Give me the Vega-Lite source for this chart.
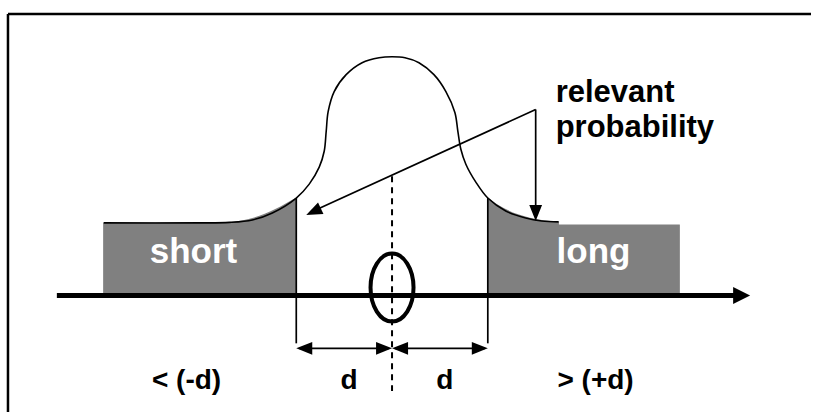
{
  "$schema": "https://vega.github.io/schema/vega-lite/v6.json",
  "width": 813,
  "height": 414,
  "padding": 0,
  "autosize": {"type": "fit", "contains": "padding"},
  "background": "white",
  "config": {"view": {"stroke": null}},
  "datasets": {
    "curve": [
      {"i": 1, "x": 104, "y": 73},
      {"i": 2, "x": 200, "y": 73},
      {"i": 3, "x": 230, "y": 73.5},
      {"i": 4, "x": 253, "y": 76},
      {"i": 5, "x": 273, "y": 83},
      {"i": 6, "x": 297, "y": 98},
      {"i": 7, "x": 310, "y": 112},
      {"i": 8, "x": 320, "y": 129},
      {"i": 9, "x": 325, "y": 145},
      {"i": 10, "x": 327, "y": 165},
      {"i": 11, "x": 329, "y": 185},
      {"i": 12, "x": 335, "y": 205},
      {"i": 13, "x": 347, "y": 222},
      {"i": 14, "x": 363, "y": 234},
      {"i": 15, "x": 380, "y": 239},
      {"i": 16, "x": 393, "y": 240},
      {"i": 17, "x": 406, "y": 239},
      {"i": 18, "x": 420, "y": 234},
      {"i": 19, "x": 435, "y": 222},
      {"i": 20, "x": 447, "y": 205},
      {"i": 21, "x": 456, "y": 184},
      {"i": 22, "x": 459, "y": 165},
      {"i": 23, "x": 462, "y": 147},
      {"i": 24, "x": 467, "y": 132},
      {"i": 25, "x": 477, "y": 114},
      {"i": 26, "x": 489, "y": 98},
      {"i": 27, "x": 507, "y": 85},
      {"i": 28, "x": 527, "y": 78},
      {"i": 29, "x": 543, "y": 75},
      {"i": 30, "x": 560, "y": 74}
    ],
    "leftTail": [
      {"x": 104, "y": 73},
      {"x": 200, "y": 73},
      {"x": 230, "y": 73.5},
      {"x": 253, "y": 76},
      {"x": 273, "y": 83},
      {"x": 297, "y": 98}
    ],
    "rightTail": [
      {"x": 489, "y": 98},
      {"x": 507, "y": 85},
      {"x": 527, "y": 78},
      {"x": 543, "y": 75},
      {"x": 560, "y": 74}
    ],
    "leftFill": [{"x": 297, "y": 0}],
    "rightFill": [{"x": 489, "y": 0}],
    "boxes": [
      {"x": 104, "x2": 297, "y": 73, "y2": 0},
      {"x": 489, "x2": 681, "y": 71, "y2": 0}
    ],
    "border": [
      {"x": 8, "y": 283, "x2": 813, "y2": 283},
      {"x": 8, "y": 283, "x2": 8, "y2": -117}
    ],
    "thin": [
      {"x": 297, "y": 98, "x2": 297, "y2": -48},
      {"x": 489, "y": 98, "x2": 489, "y2": -48},
      {"x": 537, "y": 187, "x2": 312, "y2": 84},
      {"x": 537, "y": 187, "x2": 537, "y2": 85},
      {"x": 300, "y": -53, "x2": 390, "y2": -53},
      {"x": 396, "y": -53, "x2": 486, "y2": -53}
    ],
    "dashed": [
      {"x": 393, "y": 120, "x2": 393, "y2": -96}
    ],
    "axis": [
      {"x": 57, "y": 0, "x2": 740, "y2": 0}
    ],
    "heads": [
      {"x": 307, "y": 81, "angle": 245},
      {"x": 537, "y": 75, "angle": 180},
      {"x": 297, "y": -53, "angle": 270},
      {"x": 393, "y": -53, "angle": 90},
      {"x": 393, "y": -53, "angle": 270},
      {"x": 489, "y": -53, "angle": 90}
    ],
    "axishead": [
      {"x": 752, "y": 0, "angle": 90}
    ],
    "ellipse": [
      {"x": 393, "y": 8}
    ],
    "whiteLabels": [
      {"x": 194, "y": 33, "text": "short"},
      {"x": 595, "y": 33, "text": "long"}
    ],
    "bottomLabels": [
      {"x": 187, "y": -94, "text": "< (-d)"},
      {"x": 350, "y": -94, "text": "d"},
      {"x": 446, "y": -94, "text": "d"},
      {"x": 597, "y": -94, "text": "> (+d)"}
    ],
    "noteLabels": [
      {"x": 557, "y": 195, "text": "relevant"},
      {"x": 557, "y": 159, "text": "probability"}
    ]
  },
  "layer": [
    {
      "data": {"name": "leftFill"},
      "mark": {"type": "point", "shape": "M0,0L0,-98C-22,-85 -42,-75 -67,-73.5L-193,-73L-193,0Z", "size": 4, "filled": true, "color": "#808080", "strokeWidth": 0, "opacity": 1},
      "encoding": {
        "x": {"field": "x", "type": "quantitative", "scale": {"domain": [0, 813], "nice": false, "zero": false}, "axis": null},
        "y": {"field": "y", "type": "quantitative", "scale": {"domain": [-117, 297], "nice": false, "zero": false}, "axis": null}
      }
    },
    {
      "data": {"name": "rightFill"},
      "mark": {"type": "point", "shape": "M0,0L0,-98C15,-86 35,-76 71,-74L71,-71L192,-71L192,0Z", "size": 4, "filled": true, "color": "#808080", "strokeWidth": 0, "opacity": 1},
      "encoding": {
        "x": {"field": "x", "type": "quantitative", "scale": {"domain": [0, 813], "nice": false, "zero": false}, "axis": null},
        "y": {"field": "y", "type": "quantitative", "scale": {"domain": [-117, 297], "nice": false, "zero": false}, "axis": null}
      }
    },
    {
      "data": {"name": "leftTail"},
      "mark": {"type": "area", "color": "#808080"},
      "encoding": {
        "x": {"field": "x", "type": "quantitative", "scale": {"domain": [0, 813], "nice": false, "zero": false}, "axis": null},
        "y": {"field": "y", "type": "quantitative", "scale": {"domain": [-117, 297], "nice": false, "zero": false}, "axis": null}
      }
    },
    {
      "data": {"name": "rightTail"},
      "mark": {"type": "area", "color": "#808080"},
      "encoding": {
        "x": {"field": "x", "type": "quantitative", "scale": {"domain": [0, 813], "nice": false, "zero": false}, "axis": null},
        "y": {"field": "y", "type": "quantitative", "scale": {"domain": [-117, 297], "nice": false, "zero": false}, "axis": null}
      }
    },
    {
      "data": {"name": "boxes"},
      "mark": {"type": "rect", "color": "#808080"},
      "encoding": {
        "x": {"field": "x", "type": "quantitative", "scale": {"domain": [0, 813], "nice": false, "zero": false}, "axis": null},
        "y": {"field": "y", "type": "quantitative", "scale": {"domain": [-117, 297], "nice": false, "zero": false}, "axis": null},
        "x2": {"field": "x2"},
        "y2": {"field": "y2"}
      }
    },
    {
      "data": {"name": "border"},
      "mark": {"type": "rule", "stroke": "black", "strokeWidth": 2.5},
      "encoding": {
        "x": {"field": "x", "type": "quantitative", "scale": {"domain": [0, 813], "nice": false, "zero": false}, "axis": null},
        "y": {"field": "y", "type": "quantitative", "scale": {"domain": [-117, 297], "nice": false, "zero": false}, "axis": null},
        "x2": {"field": "x2"},
        "y2": {"field": "y2"}
      }
    },
    {
      "data": {"name": "curve"},
      "mark": {"type": "line", "stroke": "black", "strokeWidth": 1.6, "interpolate": "catmull-rom"},
      "encoding": {
        "x": {"field": "x", "type": "quantitative", "scale": {"domain": [0, 813], "nice": false, "zero": false}, "axis": null},
        "y": {"field": "y", "type": "quantitative", "scale": {"domain": [-117, 297], "nice": false, "zero": false}, "axis": null},
        "order": {"field": "i"}
      }
    },
    {
      "data": {"name": "thin"},
      "mark": {"type": "rule", "stroke": "black", "strokeWidth": 1.7},
      "encoding": {
        "x": {"field": "x", "type": "quantitative", "scale": {"domain": [0, 813], "nice": false, "zero": false}, "axis": null},
        "y": {"field": "y", "type": "quantitative", "scale": {"domain": [-117, 297], "nice": false, "zero": false}, "axis": null},
        "x2": {"field": "x2"},
        "y2": {"field": "y2"}
      }
    },
    {
      "data": {"name": "dashed"},
      "mark": {"type": "rule", "stroke": "black", "strokeWidth": 2, "strokeDash": [6, 5]},
      "encoding": {
        "x": {"field": "x", "type": "quantitative", "scale": {"domain": [0, 813], "nice": false, "zero": false}, "axis": null},
        "y": {"field": "y", "type": "quantitative", "scale": {"domain": [-117, 297], "nice": false, "zero": false}, "axis": null},
        "x2": {"field": "x2"},
        "y2": {"field": "y2"}
      }
    },
    {
      "data": {"name": "axis"},
      "mark": {"type": "rule", "stroke": "black", "strokeWidth": 5},
      "encoding": {
        "x": {"field": "x", "type": "quantitative", "scale": {"domain": [0, 813], "nice": false, "zero": false}, "axis": null},
        "y": {"field": "y", "type": "quantitative", "scale": {"domain": [-117, 297], "nice": false, "zero": false}, "axis": null},
        "x2": {"field": "x2"},
        "y2": {"field": "y2"}
      }
    },
    {
      "data": {"name": "heads"},
      "mark": {"type": "point", "shape": "M0,0L-0.8,2L0.8,2Z", "size": 256, "filled": true, "color": "black", "strokeWidth": 0, "opacity": 1},
      "encoding": {
        "x": {"field": "x", "type": "quantitative", "scale": {"domain": [0, 813], "nice": false, "zero": false}, "axis": null},
        "y": {"field": "y", "type": "quantitative", "scale": {"domain": [-117, 297], "nice": false, "zero": false}, "axis": null},
        "angle": {"field": "angle", "type": "quantitative", "scale": null}
      }
    },
    {
      "data": {"name": "axishead"},
      "mark": {"type": "point", "shape": "M0,0L-1,2L1,2Z", "size": 289, "filled": true, "color": "black", "strokeWidth": 0, "opacity": 1},
      "encoding": {
        "x": {"field": "x", "type": "quantitative", "scale": {"domain": [0, 813], "nice": false, "zero": false}, "axis": null},
        "y": {"field": "y", "type": "quantitative", "scale": {"domain": [-117, 297], "nice": false, "zero": false}, "axis": null},
        "angle": {"field": "angle", "type": "quantitative", "scale": null}
      }
    },
    {
      "data": {"name": "ellipse"},
      "mark": {"type": "point", "shape": "M0,-3.4A2.15,3.4 0 1,1 0,3.4A2.15,3.4 0 1,1 0,-3.4Z", "size": 400, "filled": false, "color": "black", "strokeWidth": 4, "opacity": 1},
      "encoding": {
        "x": {"field": "x", "type": "quantitative", "scale": {"domain": [0, 813], "nice": false, "zero": false}, "axis": null},
        "y": {"field": "y", "type": "quantitative", "scale": {"domain": [-117, 297], "nice": false, "zero": false}, "axis": null}
      }
    },
    {
      "data": {"name": "whiteLabels"},
      "mark": {"type": "text", "font": "Liberation Sans", "fontWeight": "bold", "fontSize": 35, "color": "white", "align": "center", "baseline": "alphabetic"},
      "encoding": {
        "x": {"field": "x", "type": "quantitative", "scale": {"domain": [0, 813], "nice": false, "zero": false}, "axis": null},
        "y": {"field": "y", "type": "quantitative", "scale": {"domain": [-117, 297], "nice": false, "zero": false}, "axis": null},
        "text": {"field": "text"}
      }
    },
    {
      "data": {"name": "bottomLabels"},
      "mark": {"type": "text", "font": "Liberation Sans", "fontWeight": "bold", "fontSize": 28, "color": "black", "align": "center", "baseline": "alphabetic"},
      "encoding": {
        "x": {"field": "x", "type": "quantitative", "scale": {"domain": [0, 813], "nice": false, "zero": false}, "axis": null},
        "y": {"field": "y", "type": "quantitative", "scale": {"domain": [-117, 297], "nice": false, "zero": false}, "axis": null},
        "text": {"field": "text"}
      }
    },
    {
      "data": {"name": "noteLabels"},
      "mark": {"type": "text", "font": "Liberation Sans", "fontWeight": "bold", "fontSize": 31, "color": "black", "align": "left", "baseline": "alphabetic"},
      "encoding": {
        "x": {"field": "x", "type": "quantitative", "scale": {"domain": [0, 813], "nice": false, "zero": false}, "axis": null},
        "y": {"field": "y", "type": "quantitative", "scale": {"domain": [-117, 297], "nice": false, "zero": false}, "axis": null},
        "text": {"field": "text"}
      }
    }
  ]
}
